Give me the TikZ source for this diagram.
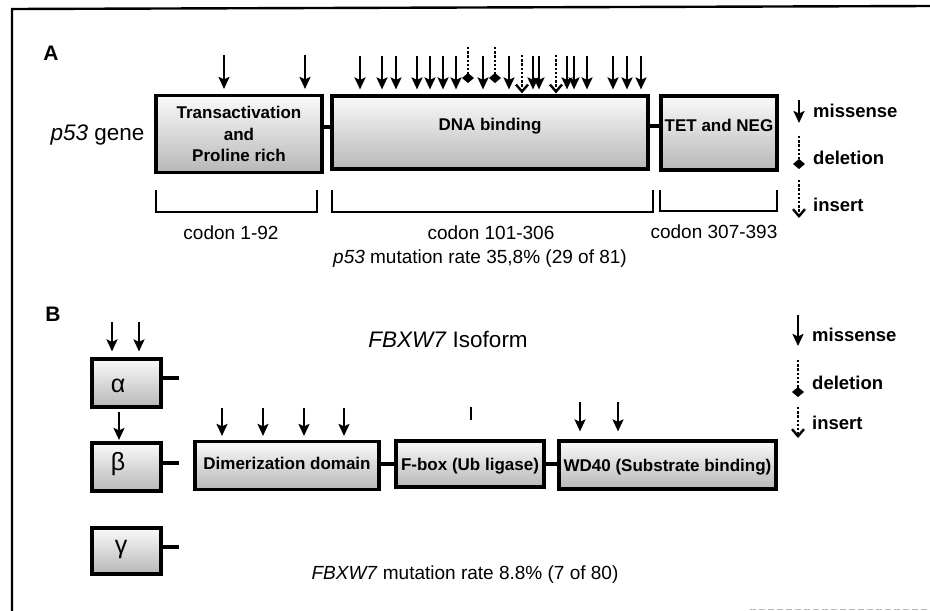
\documentclass[tikz,border=0pt]{standalone}
\usepackage{fontspec}
\setmainfont{Liberation Sans}
\usetikzlibrary{arrows.meta}
\begin{document}
\begin{tikzpicture}[x=1pt,y=-1pt,
  dom/.style={draw=black, line width=3.2pt, top color=black!2, bottom color=black!28, inner sep=0pt},
  dtext/.style={font=\fontsize{17}{21.5}\selectfont\bfseries, align=center, inner sep=0pt},
  greek/.style={font=\fontsize{25}{27}\selectfont, inner sep=0pt},
  txt/.style={font=\fontsize{19}{22}\selectfont, inner sep=0pt},
  big/.style={font=\fontsize{22.5}{25}\selectfont, inner sep=0pt},
  panel/.style={font=\fontsize{21}{24}\selectfont\bfseries, inner sep=0pt},
  leg/.style={font=\fontsize{18.5}{21}\selectfont\bfseries, inner sep=0pt, anchor=west},
  mis/.style={line width=2.2pt, -{Stealth[length=12pt,width=11pt,inset=2.5pt]}},
  del/.style={line width=2.4pt, dash pattern=on 2.4pt off 1.8pt, -{Diamond[length=10pt,width=12pt]}},
  ins/.style={line width=2.4pt, dash pattern=on 2.4pt off 1.8pt, -{Straight Barb[length=7pt,width=12pt,line width=2.4pt]}},
  conn/.style={line width=3.5pt},
  brk/.style={line width=2.4pt},
  frame/.style={line width=2.4pt}
]
\useasboundingbox (0,0) rectangle (930,611);
% frame
\coordinate (ftl) at (12,9);
\coordinate (ftr) at (930,6);
\coordinate (fbl) at (12,611);
\draw[frame] (ftr) -- (ftl) -- (fbl);
\coordinate (sl) at (750,609);
\coordinate (sr) at (930,609);
\draw[gray!55, line width=0.8pt, dash pattern=on 6pt off 3pt] (sl) -- (sr);

% ===== Panel A =====
\node[panel] (pA) at (51,53) {A};
\node[big] (p53g) at (97.5,134.5) {\textit{p53} gene};

\node[dom, minimum width=166pt, minimum height=77pt] (tad) at (239,134) {};
\node[dtext] (tadt) at (tad.center) {Transactivation\\and\\Proline rich};
\node[dom, minimum width=316pt, minimum height=73pt] (dbd) at (490,132.5) {};
\node[dtext] (dbdt) at ([yshift=6pt]dbd.center) {DNA binding};
\node[dom, minimum width=116pt, minimum height=74pt] (tet) at (719,133) {};
\node[dtext] (tett) at ([yshift=8pt]tet.center) {TET and NEG};

\draw[conn] ([yshift=7pt]tad.east) -- ([yshift=7pt]tad.east -| dbd.west);
\draw[conn] ([yshift=6.5pt]dbd.east) -- ([yshift=6.5pt]dbd.east -| tet.west);

% mutations
\foreach \x in {224,305}
  \draw[mis, shorten >=5pt] (\x,55) -- ({\x},0 |- tad.north);
\foreach \x in {360,382,396,417,430,443,456,483,509,533,539,567,574,587,613,627,641}
  \draw[mis, shorten >=5pt] (\x,56) -- ({\x},0 |- dbd.north);
\foreach \x in {468,495}
  \draw[del] (\x,47) -- (\x,83);
\foreach \x in {522,556}
  \draw[ins, shorten >=1pt] (\x,55) -- ({\x},0 |- dbd.north);

% brackets
\draw[brk] (156,190) -- (156,212) -- (317,212) -- (317,190);
\draw[brk] (332,190) -- (332,212) -- (653,212) -- (653,190);
\draw[brk] (660,190) -- (660,211) -- (777,211) -- (777,190);
\node[txt] (c1) at (231,232.5) {codon 1-92};
\node[txt] (c2) at (491,232.5) {codon 101-306};
\node[txt] (c3) at (714,232) {codon 307-393};
\node[txt] (rateA) at (480,259) {\textit{p53} mutation rate 35,8\% (29 of 81)};

% legend A
\node[leg] (lmA) at (813,111) {missense};
\node[leg] (ldA) at (813,158) {deletion};
\node[leg] (liA) at (813,204.5) {insert};
\draw[mis] (799,100) -- (799,123);
\draw[del] (799,136) -- (799,169);
\draw[ins] (799,180) -- (799,218);

% ===== Panel B =====
\node[panel] (pB) at (53,314) {B};
\node[big] (iso) at (448,339) {\textit{FBXW7} Isoform};

\node[dom, minimum width=69pt, minimum height=48pt] (alpha) at (126.5,383) {};
\node[greek] (alphat) at (118,386) {α};
\node[dom, minimum width=69pt, minimum height=48pt] (beta) at (126.5,467) {};
\node[greek] (betat) at (118,464) {β};
\node[dom, minimum width=69pt, minimum height=46pt] (gamma) at (126.5,551) {};
\node[greek] (gammat) at (121,549) {γ};

\coordinate (ta) at (179,378);
\coordinate (tb) at (179,463);
\coordinate (tg) at (179,547);
\draw[conn] (alpha.east |- ta) -- (ta);
\draw[conn] (beta.east |- tb) -- (tb);
\draw[conn] (gamma.east |- tg) -- (tg);

\node[dom, minimum width=184pt, minimum height=48pt] (dim) at (287,465.5) {};
\node[dtext] (dimt) at ([yshift=2pt]dim.center) {Dimerization domain};
\node[dom, minimum width=148pt, minimum height=46pt] (fbox) at (470,464) {};
\node[dtext] (fboxt) at ([yshift=-2pt]fbox.center) {F-box (Ub ligase)};
\node[dom, minimum width=217pt, minimum height=48pt] (wd) at (667.5,465) {};
\node[dtext] (wdt) at ([yshift=-2pt]wd.center) {WD40 (Substrate binding)};

\draw[conn] (dim.east |- fbox.west) -- (fbox.west);
\draw[conn] (fbox.east) -- (fbox.east -| wd.west);

% mutations B
\foreach \x in {112,139}
  \draw[mis, shorten >=6pt] (\x,322) -- ({\x},0 |- alpha.north);
\draw[mis, shorten <=3pt, shorten >=1.5pt] ([xshift=-7.5pt]alpha.south) -- ([xshift=-7.5pt]beta.north);
\foreach \x in {222,263,304,344}
  \draw[mis, shorten >=4pt] (\x,408) -- ({\x},0 |- dim.north);
\foreach \x in {580,618}
  \draw[mis, shorten >=8pt] (\x,402) -- ({\x},0 |- wd.north);
\coordinate (fb1) at (471,407);
\coordinate (fb2) at (471,420);
\draw[line width=2.2pt] (fb1) -- (fb2);

\node[txt] (rateB) at (465,574.5) {\textit{FBXW7} mutation rate 8.8\% (7 of 80)};

% legend B
\node[leg] (lmB) at (812,335) {missense};
\node[leg] (ldB) at (812,383) {deletion};
\node[leg] (liB) at (812,423) {insert};
\draw[mis] (798,315) -- (798,346);
\draw[del] (798,360) -- (798,397);
\draw[ins] (798,407) -- (798,438);
\end{tikzpicture}
\end{document}
